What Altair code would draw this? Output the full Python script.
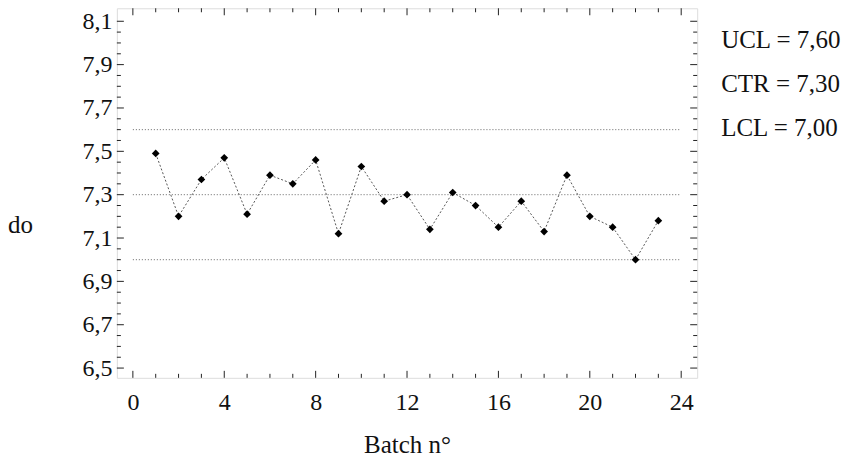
import altair as alt
import pandas as pd

batch = list(range(1, 24))
values = [7.49, 7.20, 7.37, 7.47, 7.21, 7.39, 7.35, 7.46, 7.12, 7.43, 7.27, 7.30,
          7.14, 7.31, 7.25, 7.15, 7.27, 7.13, 7.39, 7.20, 7.15, 7.00, 7.18]
limit_names = ["UCL", "CTR", "LCL"]
limit_values = [7.60, 7.30, 7.00]
limit_labels = ["UCL = 7,60", "CTR = 7,30", "LCL = 7,00"]
x_ticks = [0, 4, 8, 12, 16, 20, 24]
y_ticks = [6.5, 6.7, 6.9, 7.1, 7.3, 7.5, 7.7, 7.9, 8.1]

XMIN, XMAX = -0.7, 24.7
YMIN, YMAX = 6.455, 8.16
W, H = 581, 370
FONT = "Liberation Serif, Times New Roman, serif"
FS = 24

df = pd.DataFrame({"batch": batch, "value": values})
lim = pd.DataFrame({"name": limit_names, "v": limit_values, "x0": 0, "x1": 24})

# inward tick marks on all four sides
px_x = (XMAX - XMIN) / W
px_y = (YMAX - YMIN) / H
rows = []
for t in range(0, 25):
    L = (7 if t % 4 == 0 else 4) * px_y
    rows.append((t, t, YMIN, YMIN + L))
    rows.append((t, t, YMAX, YMAX - L))
for k in range(0, 33):
    t = round(6.5 + 0.05 * k, 3)
    L = (7 if k % 4 == 0 else 4) * px_x
    rows.append((XMIN, XMIN + L, t, t))
    rows.append((XMAX, XMAX - L, t, t))
ticks = pd.DataFrame(rows, columns=["x", "x2", "y", "y2"])

xs = alt.Scale(domain=[XMIN, XMAX], nice=False, zero=False)
ys = alt.Scale(domain=[YMIN, YMAX], nice=False, zero=False)

xaxis = alt.Axis(values=x_ticks, ticks=False, domain=False, grid=False,
                 labelFont=FONT, labelFontSize=FS, labelPadding=13, labelColor="#111",
                 title="Batch n°", titleFont=FONT, titleFontSize=25, titleFontWeight="normal",
                 titlePadding=18, titleColor="#111")
yaxis = alt.Axis(values=y_ticks, ticks=False, domain=False, grid=False,
                 labelFont=FONT, labelFontSize=FS, labelPadding=5, labelColor="#111",
                 labelExpr="replace(format(datum.value, '.1f'), '.', ',')",
                 title="do", titleFont=FONT, titleFontSize=25, titleFontWeight="normal",
                 titleAngle=0, titleX=-97, titleY=216, titleAlign="center",
                 titleBaseline="middle", titleColor="#111")


def X(f):
    return alt.X(f, type="quantitative", scale=xs, axis=xaxis, title="Batch n°")


def Y(f):
    return alt.Y(f, type="quantitative", scale=ys, axis=yaxis, title="do")


line = alt.Chart(df).mark_line(color="#444", strokeWidth=0.9, strokeDash=[2, 2]).encode(
    x=X("batch"), y=Y("value"))
pts = alt.Chart(df).mark_point(shape="diamond", filled=True, color="#000", size=60, opacity=1).encode(
    x=X("batch"), y=Y("value"))
rules = alt.Chart(lim).mark_rule(color="#555", strokeWidth=0.9, strokeDash=[1, 2]).encode(
    x=X("x0"), x2="x1:Q", y=Y("v"))
tk = alt.Chart(ticks).mark_rule(color="#222", strokeWidth=1).encode(
    x=X("x"), x2="x2:Q", y=Y("y"), y2="y2:Q")

texts = []
for i, s in enumerate(limit_labels):
    texts.append(alt.Chart(pd.DataFrame({"label": [s]})).mark_text(
        font=FONT, fontSize=25, align="left", baseline="middle", color="#111").encode(
        x=alt.value(W + 24), y=alt.value(32 + 44 * i), text="label:N"))

chart = alt.layer(rules, line, pts, tk, *texts).properties(
    width=W, height=H, autosize=alt.AutoSizeParams(type="none"),
    padding={"left": 109, "top": 0, "right": 160, "bottom": 80}
).configure_view(stroke="#222", strokeWidth=1).configure(background="white")

chart.save("out.html", embed_options={"renderer": "svg", "actions": False})
